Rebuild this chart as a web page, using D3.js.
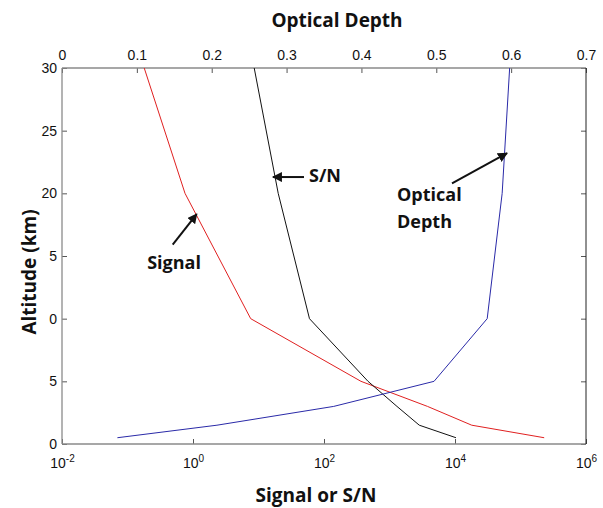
<!DOCTYPE html>
<html>
<head>
<meta charset="utf-8">
<script src="https://cdn.jsdelivr.net/npm/d3@7"></script>
<style>
  body { margin: 0; background: #fff; }
  svg { display: block; }
</style>
</head>
<body>
<div id="chart"></div>
<script>
// Altitude grid (km) and the three profiles
const altitudes = [0.5, 1.5, 3, 5, 10, 20, 30];
const signal = [230000, 18000, 3800, 367, 7.6, 0.755, 0.18];
const snr = [10350, 2850, 1300, 470, 60, 20, 8.6];
const opticalDepth = [0.074, 0.207, 0.363, 0.497, 0.568, 0.588, 0.598];

// Tick values / labels
const xTicks = [1e-2, 1e0, 1e2, 1e4, 1e6];
const xTickExp = ["-2", "0", "2", "4", "6"];
const topTicks = [0, 0.1, 0.2, 0.3, 0.4, 0.5, 0.6, 0.7];
const yTicks = [0, 5, 10, 15, 20, 25, 30];
const yTickLabels = ["0", "5", "0", "5", "20", "25", "30"];

const width = 603, height = 508;
const plot = {left: 62, right: 586, top: 68, bottom: 444};

let svg = d3.select("#chart")
    .append("svg")
    .attr("width", width)
    .attr("height", height);

// Scales: log bottom (signal, S/N), linear top (optical depth)
let x = d3.scaleLog().domain([1e-2, 1e6]).range([plot.left, plot.right]);
let xTop = d3.scaleLinear().domain([0, 0.7]).range([plot.left, plot.right]);
let y = d3.scaleLinear().domain([0, 30]).range([plot.bottom, plot.top]);

const tickFont = "'Liberation Sans', Arial, sans-serif";
const titleFont = "'Open Sans', sans-serif";

// Bottom axis (ticks inward)
let bottomAxis = svg.append("g")
    .attr("transform", `translate(0, ${plot.bottom})`)
    .call(d3.axisBottom(x).tickValues(xTicks).tickSizeInner(-5).tickSizeOuter(0).tickFormat(""));
bottomAxis.select(".domain").remove();
bottomAxis.selectAll(".tick line").attr("stroke", "#555");
bottomAxis.selectAll(".tick").each(function(d, i) {
    let t = d3.select(this).append("text")
        .attr("y", 24)
        .attr("fill", "#111")
        .attr("text-anchor", "middle")
        .style("font-family", tickFont)
        .style("font-size", "14px");
    t.append("tspan").text("10");
    t.append("tspan").attr("dy", -6).style("font-size", "10px").text(xTickExp[i]);
});

// Top axis (optical depth)
let topAxis = svg.append("g")
    .attr("transform", `translate(0, ${plot.top})`)
    .call(d3.axisTop(xTop).tickValues(topTicks).tickSizeInner(-5).tickSizeOuter(0).tickPadding(8)
        .tickFormat(d => d === 0 ? "0" : d3.format(".1f")(d)));
topAxis.select(".domain").remove();
topAxis.selectAll(".tick line").attr("stroke", "#555");
topAxis.selectAll(".tick text")
    .attr("fill", "#111")
    .style("font-family", tickFont)
    .style("font-size", "14px");

// Left axis
let leftAxis = svg.append("g")
    .attr("transform", `translate(${plot.left}, 0)`)
    .call(d3.axisLeft(y).tickValues(yTicks).tickSizeInner(-5).tickSizeOuter(0).tickPadding(5)
        .tickFormat((d, i) => yTickLabels[i]));
leftAxis.select(".domain").remove();
leftAxis.selectAll(".tick line").attr("stroke", "#555");
leftAxis.selectAll(".tick text")
    .attr("fill", "#111")
    .style("font-family", tickFont)
    .style("font-size", "14px");

// Right axis: ticks only
let rightAxis = svg.append("g")
    .attr("transform", `translate(${plot.right}, 0)`)
    .call(d3.axisRight(y).tickValues(yTicks).tickSizeInner(-5).tickSizeOuter(0).tickFormat(""));
rightAxis.select(".domain").remove();
rightAxis.selectAll(".tick line").attr("stroke", "#555");

// Frame: grey left/top/bottom, darker right
svg.append("line").attr("x1", plot.left).attr("x2", plot.right).attr("y1", plot.top).attr("y2", plot.top)
    .attr("stroke", "#8a8a8a").attr("stroke-width", 1.3);
svg.append("line").attr("x1", plot.left).attr("x2", plot.right).attr("y1", plot.bottom).attr("y2", plot.bottom)
    .attr("stroke", "#8a8a8a").attr("stroke-width", 1.3);
svg.append("line").attr("x1", plot.left).attr("x2", plot.left).attr("y1", plot.top).attr("y2", plot.bottom)
    .attr("stroke", "#8a8a8a").attr("stroke-width", 1.3);
svg.append("line").attr("x1", plot.right).attr("x2", plot.right).attr("y1", plot.top).attr("y2", plot.bottom)
    .attr("stroke", "#222").attr("stroke-width", 1);

// Profiles
let logLine = d3.line().x(d => x(d[0])).y(d => y(d[1]));
let linLine = d3.line().x(d => xTop(d[0])).y(d => y(d[1]));

svg.append("path")
    .datum(signal.map((v, i) => [v, altitudes[i]]))
    .attr("d", logLine)
    .attr("fill", "none")
    .attr("stroke", "#e02020")
    .attr("stroke-width", 1);

svg.append("path")
    .datum(snr.map((v, i) => [v, altitudes[i]]))
    .attr("d", logLine)
    .attr("fill", "none")
    .attr("stroke", "#111")
    .attr("stroke-width", 1);

svg.append("path")
    .datum(opticalDepth.map((v, i) => [v, altitudes[i]]))
    .attr("d", linLine)
    .attr("fill", "none")
    .attr("stroke", "#2a2aa8")
    .attr("stroke-width", 1);

// Arrowhead marker
svg.append("defs").append("marker")
    .attr("id", "arrow")
    .attr("viewBox", "0 0 10 10")
    .attr("refX", 9).attr("refY", 5)
    .attr("markerWidth", 5).attr("markerHeight", 5)
    .attr("orient", "auto")
    .append("path")
    .attr("d", "M0,0 L10,5 L0,10 z")
    .attr("fill", "#111");

// Annotations, placed in data units
function arrow(x1, y1, x2, y2) {
    svg.append("line")
        .attr("x1", x1).attr("y1", y1).attr("x2", x2).attr("y2", y2)
        .attr("stroke", "#111")
        .attr("stroke-width", 2)
        .attr("marker-end", "url(#arrow)");
}
function label(px, py, txt) {
    svg.append("text")
        .attr("x", px).attr("y", py)
        .style("font-family", titleFont)
        .style("font-weight", "bold")
        .style("font-size", "18px")
        .attr("fill", "#111")
        .text(txt);
}

arrow(x(49.5), y(21.3), x(16.6), y(21.3));
label(x(59), y(20.9), "S/N");

arrow(x(0.49), y(15.9), x(1.14), y(18.35));
label(x(0.2), y(14.0), "Signal");

arrow(xTop(0.521), y(20.8), xTop(0.5945), y(23.2));
label(xTop(0.4475), y(19.4), "Optical");
label(xTop(0.4475), y(17.2), "Depth");

// Axis titles
svg.append("text")
    .attr("x", 337).attr("y", 27)
    .attr("text-anchor", "middle")
    .style("font-family", titleFont)
    .style("font-weight", "bold")
    .style("font-size", "19px")
    .attr("fill", "#111")
    .text("Optical Depth");

svg.append("text")
    .attr("x", 316).attr("y", 502)
    .attr("text-anchor", "middle")
    .style("font-family", titleFont)
    .style("font-weight", "bold")
    .style("font-size", "19px")
    .attr("fill", "#111")
    .text("Signal or S/N");

svg.append("text")
    .attr("transform", `translate(36, 272) rotate(-90)`)
    .attr("text-anchor", "middle")
    .style("font-family", titleFont)
    .style("font-weight", "bold")
    .style("font-size", "19px")
    .attr("fill", "#111")
    .text("Altitude (km)");
</script>
</body>
</html>
